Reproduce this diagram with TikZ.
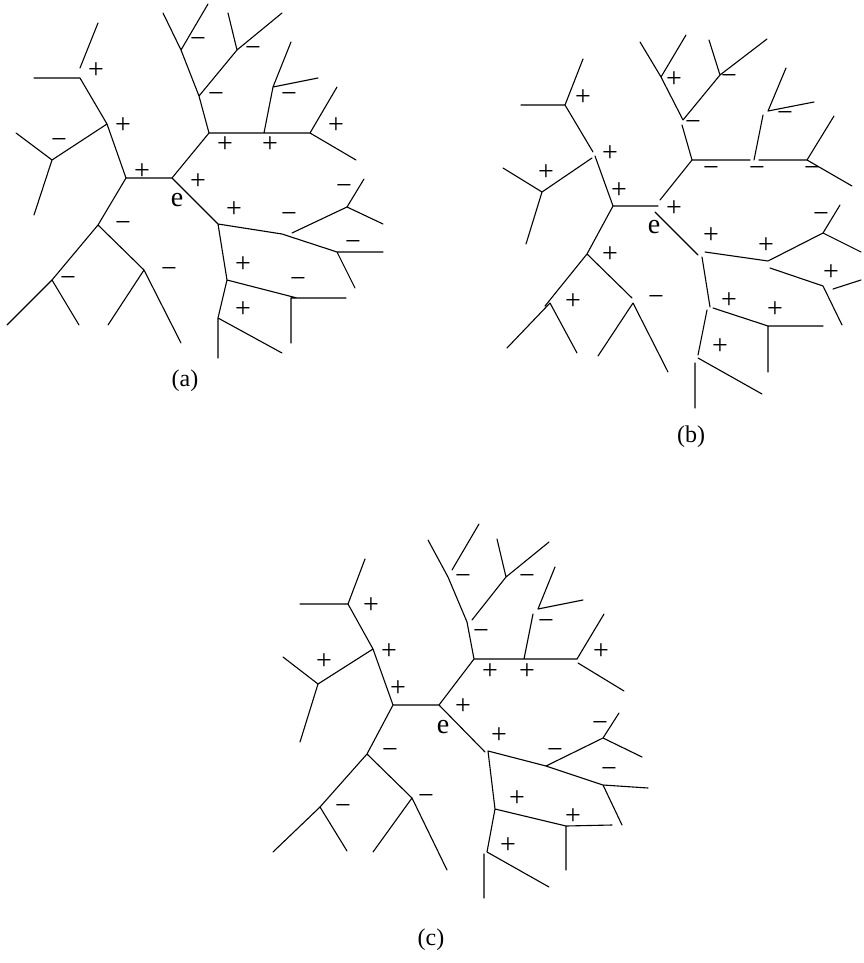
\documentclass[tikz,border=0pt]{standalone}
\usepackage{fontspec}
\setmainfont{Liberation Serif}
\begin{document}
\begin{tikzpicture}[x=1pt,y=-1pt,
  edge/.style={line width=1.1pt, line cap=round},
  lbl/.style={inner sep=0pt, font=\fontsize{28}{28}\selectfont},
  captext/.style={inner sep=0pt, font=\fontsize{24}{26}\selectfont}]
\useasboundingbox (0,0) rectangle (863,963);
% ================= tree (a) =================
\coordinate (aL1) at (98,23);   \coordinate (aL1e) at (80,68);
\coordinate (aA1) at (80,78);   \coordinate (aL2) at (34,78);
\coordinate (aA2) at (107,124);
\coordinate (aB0) at (52,160);  \coordinate (aL3) at (16,133); \coordinate (aL4) at (34,215);
\coordinate (aA3) at (126,178); \coordinate (aE) at (172,178);
\coordinate (aB1) at (98,225);
\coordinate (aB2) at (52,280);  \coordinate (aL5) at (7,325);  \coordinate (aL6) at (79,325);
\coordinate (aB3) at (144,270); \coordinate (aL7) at (108,325); \coordinate (aL8) at (181,343);
\coordinate (aC1) at (209,133); \coordinate (aC2) at (264,133); \coordinate (aC3) at (310,133);
\coordinate (aL9) at (337,87);  \coordinate (aL10) at (356,160);
\coordinate (aC4) at (273,87);  \coordinate (aL11) at (291,42); \coordinate (aL12) at (318,78);
\coordinate (aC5) at (199,96);
\coordinate (aC6) at (181,50);  \coordinate (aL13) at (163,13); \coordinate (aL14) at (208,4);
\coordinate (aC7) at (237,50);  \coordinate (aL15) at (228,13); \coordinate (aL16) at (282,13);
\coordinate (aD1) at (218,224); \coordinate (aD2) at (282,234); \coordinate (aD2b) at (292,233);
\coordinate (aD3) at (347,207); \coordinate (aL17) at (364,179); \coordinate (aL18) at (383,224);
\coordinate (aD4) at (337,252); \coordinate (aL19) at (383,252); \coordinate (aL20) at (355,288);
\coordinate (aD5) at (227,280); \coordinate (aD6e) at (297,298);
\coordinate (aD6) at (291,298); \coordinate (aL21) at (346,298); \coordinate (aL22) at (291,343);
\coordinate (aD7) at (218,318); \coordinate (aL23) at (218,358); \coordinate (aL24) at (282,353);
\draw[edge] (aL1)--(aL1e) (aA1)--(aL2) (aA1)--(aA2) (aA2)--(aB0) (aB0)--(aL3) (aB0)--(aL4)
  (aA2)--(aA3) (aA3)--(aE) (aA3)--(aB1) (aB1)--(aB2) (aB2)--(aL5) (aB2)--(aL6)
  (aB1)--(aB3) (aB3)--(aL7) (aB3)--(aL8)
  (aE)--(aC1) (aC1)--(aC2) (aC2)--(aC3) (aC3)--(aL9) (aC3)--(aL10)
  (aC2)--(aC4) (aC4)--(aL11) (aC4)--(aL12)
  (aC1)--(aC5) (aC5)--(aC6) (aC6)--(aL13) (aC6)--(aL14)
  (aC5)--(aC7) (aC7)--(aL15) (aC7)--(aL16)
  (aE)--(aD1) (aD1)--(aD2) (aD2)--(aD4) (aD2b)--(aD3) (aD3)--(aL17) (aD3)--(aL18)
  (aD4)--(aL19) (aD4)--(aL20)
  (aD1)--(aD5) (aD5)--(aD6e) (aD6)--(aL21) (aD6)--(aL22)
  (aD5)--(aD7) (aD7)--(aL23) (aD7)--(aL24);
\node[lbl] (at1) at (96,71) {+};
\node[lbl] (at2) at (123,126) {+};
\node[lbl] (at3) at (59,144) {−};
\node[lbl] (at4) at (142,172) {+};
\node[lbl] (ae) at (177,200) {e};
\node[lbl] (at5) at (198,182) {+};
\node[lbl] (at6) at (234,210) {+};
\node[lbl] (at7) at (123,227) {−};
\node[lbl] (at8) at (68,282) {−};
\node[lbl] (at9) at (169,273) {−};
\node[lbl] (at10) at (198,43) {−};
\node[lbl] (at11) at (253,52) {−};
\node[lbl] (at12) at (216,98) {−};
\node[lbl] (at13) at (289,98) {−};
\node[lbl] (at14) at (225,145) {+};
\node[lbl] (at15) at (270,145) {+};
\node[lbl] (at16) at (336,126) {+};
\node[lbl] (at17) at (289,218) {−};
\node[lbl] (at18) at (344,190) {−};
\node[lbl] (at19) at (353,246) {−};
\node[lbl] (at20) at (243,265) {+};
\node[lbl] (at21) at (298,283) {−};
\node[lbl] (at22) at (243,310) {+};
\node[captext] (acap) at (185,381) {(a)};
% ================= tree (b) =================
\coordinate (bL1) at (583,59);  \coordinate (bA1) at (565,105); \coordinate (bL2) at (521,105);
\coordinate (bA2) at (593,152); \coordinate (bA2s) at (595,156); \coordinate (bA2l) at (592,158);
\coordinate (bB0) at (542,192); \coordinate (bL3) at (503,168); \coordinate (bL4) at (526,244);
\coordinate (bA3) at (613,206); \coordinate (bE) at (658,206);
\coordinate (bEc) at (660,200); \coordinate (bEd) at (655,212);
\coordinate (bB1) at (587,254);
\coordinate (bB2e) at (545,306); \coordinate (bB2) at (550,303);
\coordinate (bL5) at (507,348); \coordinate (bL6) at (577,353);
\coordinate (bB3e) at (632,298); \coordinate (bB3) at (633,303);
\coordinate (bL7) at (598,356); \coordinate (bL8) at (668,372);
\coordinate (bC1) at (692,160); \coordinate (bC2a) at (750,160); \coordinate (bC2b) at (759,160);
\coordinate (bC2) at (754,160); \coordinate (bC3) at (807,160);
\coordinate (bL9) at (834,116); \coordinate (bL10) at (852,186);
\coordinate (bC4e) at (763,115); \coordinate (bC4) at (768,111);
\coordinate (bL11) at (786,68); \coordinate (bL12) at (814,102);
\coordinate (bC5) at (682,125); \coordinate (bC5b) at (683,120);
\coordinate (bC7) at (720,75);  \coordinate (bL15) at (709,40); \coordinate (bL16) at (767,39);
\coordinate (bC6) at (661,77);  \coordinate (bL13) at (640,42); \coordinate (bL14) at (686,35);
\coordinate (bD1) at (698,255); \coordinate (bD1b) at (705,252); \coordinate (bD1c) at (702,257);
\coordinate (bD2) at (768,261); \coordinate (bD3) at (823,233);
\coordinate (bL17) at (840,205); \coordinate (bL18) at (861,252);
\coordinate (bD4s) at (770,268); \coordinate (bD4) at (823,286);
\coordinate (bD4b) at (833,289); \coordinate (bL19) at (861,280); \coordinate (bL20) at (842,325);
\coordinate (bD5) at (710,307); \coordinate (bD5b) at (713,308); \coordinate (bD5c) at (707,310);
\coordinate (bD6) at (768,326); \coordinate (bL21) at (823,326); \coordinate (bL22) at (768,372);
\coordinate (bD7) at (698,355); \coordinate (bD7b) at (698,358); \coordinate (bD7c) at (695,363);
\coordinate (bL23) at (695,408); \coordinate (bL24) at (762,394);
\draw[edge] (bL1)--(bA1) (bA1)--(bL2) (bA1)--(bA2) (bA2s)--(bA3) (bA2l)--(bB0)
  (bB0)--(bL3) (bB0)--(bL4)
  (bA3)--(bE) (bA3)--(bB1) (bB1)--(bB2e) (bB2)--(bL5) (bB2)--(bL6)
  (bB1)--(bB3e) (bB3)--(bL7) (bB3)--(bL8)
  (bEc)--(bC1) (bC1)--(bC2a) (bC2b)--(bC3) (bC3)--(bL9) (bC3)--(bL10)
  (bC2)--(bC4e) (bC4)--(bL11) (bC4)--(bL12)
  (bC1)--(bC5) (bC5b)--(bC7) (bC7)--(bL15) (bC7)--(bL16)
  (bC5b)--(bC6) (bC6)--(bL13) (bC6)--(bL14)
  (bEd)--(bD1) (bD1b)--(bD2) (bD2)--(bD3) (bD3)--(bL17) (bD3)--(bL18)
  (bD4s)--(bD4) (bD4b)--(bL19) (bD4)--(bL20)
  (bD1c)--(bD5) (bD5b)--(bD6) (bD6)--(bL21) (bD6)--(bL22)
  (bD5c)--(bD7) (bD7b)--(bL24) (bD7c)--(bL23);
\node[lbl] (bt1) at (583,98) {+};
\node[lbl] (bt2) at (610,154) {+};
\node[lbl] (bt3) at (546,173) {+};
\node[lbl] (bt4) at (619,191) {+};
\node[lbl] (bt5) at (674,209) {+};
\node[lbl] (be) at (654,227) {e};
\node[lbl] (bt6) at (610,255) {+};
\node[lbl] (bt7) at (573,302) {+};
\node[lbl] (bt8) at (656,301) {−};
\node[lbl] (bt9) at (674,80) {+};
\node[lbl] (bt10) at (693,126) {−};
\node[lbl] (bt11) at (729,80) {−};
\node[lbl] (bt12) at (785,117) {−};
\node[lbl] (bt13) at (711,172) {−};
\node[lbl] (bt14) at (757,172) {−};
\node[lbl] (bt15) at (812,172) {−};
\node[lbl] (bt16) at (711,236) {+};
\node[lbl] (bt17) at (766,246) {+};
\node[lbl] (bt18) at (821,218) {−};
\node[lbl] (bt19) at (831,273) {+};
\node[lbl] (bt20) at (729,301) {+};
\node[lbl] (bt21) at (775,310) {+};
\node[lbl] (bt22) at (720,347) {+};
\node[captext] (bcap) at (691,437) {(b)};
% ================= tree (c) =================
\coordinate (cL1) at (365,559); \coordinate (cA1) at (348,604); \coordinate (cL2) at (300,604);
\coordinate (cA2) at (373,649);
\coordinate (cB0) at (318,684); \coordinate (cL3) at (283,657); \coordinate (cL4) at (300,742);
\coordinate (cA3) at (393,705); \coordinate (cE) at (439,705);
\coordinate (cB1) at (367,754);
\coordinate (cB2) at (320,807); \coordinate (cL5) at (273,852); \coordinate (cL6) at (347,851);
\coordinate (cB3) at (412,798); \coordinate (cL7) at (373,852); \coordinate (cL8) at (447,870);
\coordinate (cC1) at (474,659); \coordinate (cC2) at (524,659); \coordinate (cC3) at (577,659);
\coordinate (cL9) at (604,614); \coordinate (cC3b) at (578,663); \coordinate (cL10) at (624,691);
\coordinate (cC4e) at (533,614); \coordinate (cC4) at (538,609);
\coordinate (cL11) at (555,567); \coordinate (cL12) at (583,600);
\coordinate (cC5) at (467,622); \coordinate (cC5b) at (472,620);
\coordinate (cC6) at (448,577); \coordinate (cC6b) at (452,570);
\coordinate (cL13) at (428,540); \coordinate (cL14) at (479,524);
\coordinate (cC7) at (506,577); \coordinate (cL15) at (497,539); \coordinate (cL16) at (549,542);
\coordinate (cD1) at (485,752); \coordinate (cD1b) at (488,751);
\coordinate (cD2) at (546,766); \coordinate (cD3) at (603,738);
\coordinate (cL17) at (619,713); \coordinate (cL18) at (642,757);
\coordinate (cD4) at (603,785); \coordinate (cL19) at (648,788); \coordinate (cL20) at (622,825);
\coordinate (cD5) at (495,809); \coordinate (cD6) at (566,826);
\coordinate (cL21) at (612,825); \coordinate (cL22) at (566,870);
\coordinate (cD7) at (487,852); \coordinate (cD7b) at (484,854);
\coordinate (cL23) at (484,898); \coordinate (cL24) at (549,887);
\draw[edge] (cL1)--(cA1) (cA1)--(cL2) (cA1)--(cA2) (cA2)--(cB0) (cB0)--(cL3) (cB0)--(cL4)
  (cA2)--(cA3) (cA3)--(cE) (cA3)--(cB1) (cB1)--(cB2) (cB2)--(cL5) (cB2)--(cL6)
  (cB1)--(cB3) (cB3)--(cL7) (cB3)--(cL8)
  (cE)--(cC1) (cC1)--(cC2) (cC2)--(cC3) (cC3)--(cL9) (cC3b)--(cL10)
  (cC2)--(cC4e) (cC4)--(cL11) (cC4)--(cL12)
  (cC1)--(cC5) (cC5)--(cC6) (cC6)--(cL13) (cC6b)--(cL14)
  (cC5b)--(cC7) (cC7)--(cL15) (cC7)--(cL16)
  (cE)--(cD1) (cD1b)--(cD2) (cD2)--(cD4) (cD2)--(cD3) (cD3)--(cL17) (cD3)--(cL18)
  (cD4)--(cL19) (cD4)--(cL20)
  (cD1b)--(cD5) (cD5)--(cD6) (cD6)--(cL21) (cD6)--(cL22)
  (cD5)--(cD7) (cD7b)--(cL23) (cD7)--(cL24);
\node[lbl] (ct1) at (371,606) {+};
\node[lbl] (ct2) at (389,652) {+};
\node[lbl] (ct3) at (324,662) {+};
\node[lbl] (ct4) at (398,689) {+};
\node[lbl] (ce) at (443,727) {e};
\node[lbl] (ct5) at (463,707) {+};
\node[lbl] (ct6) at (390,753) {−};
\node[lbl] (ct7) at (343,809) {−};
\node[lbl] (ct8) at (426,799) {−};
\node[lbl] (ct9) at (463,579) {−};
\node[lbl] (ct10) at (527,579) {−};
\node[lbl] (ct11) at (481,634) {−};
\node[lbl] (ct12) at (546,624) {−};
\node[lbl] (ct13) at (490,672) {+};
\node[lbl] (ct14) at (527,672) {+};
\node[lbl] (ct15) at (601,652) {+};
\node[lbl] (ct16) at (499,736) {+};
\node[lbl] (ct17) at (555,753) {−};
\node[lbl] (ct18) at (600,726) {−};
\node[lbl] (ct19) at (609,772) {−};
\node[lbl] (ct20) at (517,799) {+};
\node[lbl] (ct21) at (573,817) {+};
\node[lbl] (ct22) at (508,846) {+};
\node[captext] (ccap) at (431,940) {(c)};
\end{tikzpicture}
\end{document}
